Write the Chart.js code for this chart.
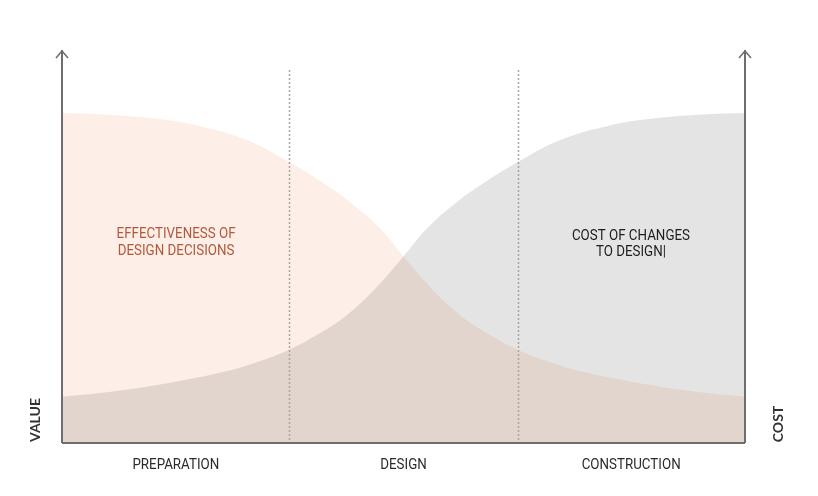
<!DOCTYPE html>
<html>
<head>
<meta charset="utf-8">
<script src="https://cdn.jsdelivr.net/npm/chart.js@4.4.1/dist/chart.umd.min.js"></script>
<style>
    html, body { margin: 0; padding: 0; background: #fff; }
    #wrap { width: 818px; height: 496px; }
</style>
</head>
<body>
<div id="wrap"><canvas id="valueCostChart" width="818" height="496"></canvas></div>
<script>
// project timeline, 0..100 across the three phases
var phases = ['PREPARATION', 'DESIGN', 'CONSTRUCTION'];
var phaseBounds = [33.3, 66.7];

var effX = [0, 5.6, 12.8, 20.1, 27.5, 33.2, 37.8, 42.2, 46.5, 50.2, 53.9, 58.3, 62.7, 66.8, 71.4, 75.8, 83.6, 92.0, 100];
var effY = [84.4, 84.1, 83.1, 81.1, 77.2, 71.9, 67.0, 61.6, 55.0, 47.3, 39.9, 32.7, 27.6, 23.8, 20.7, 18.4, 15.6, 13.3, 11.8];

var costX = [0, 8, 16.4, 24.2, 28.6, 33.2, 37.3, 41.7, 46.1, 49.8, 53.5, 57.8, 62.2, 66.8, 72.5, 79.9, 87.2, 94.4, 100];
var costY = [11.8, 13.3, 15.6, 18.4, 20.7, 23.8, 27.6, 32.7, 39.9, 47.3, 55.0, 61.6, 67.0, 71.9, 77.2, 81.1, 83.1, 84.1, 84.4];

var effLabel = ['EFFECTIVENESS OF', 'DESIGN DECISIONS'];
var costLabel = ['COST OF CHANGES', 'TO DESIGN|'];

var narrowFont = 'Roboto, "Liberation Sans", sans-serif';

function toPoints(xs, ys) {
    return xs.map(function (x, i) { return { x: x, y: ys[i] }; });
}

// condensed look: squeeze text horizontally around its centre
function narrowText(ctx, text, x, y) {
    ctx.save();
    ctx.translate(x, y);
    ctx.scale(0.89, 1);
    ctx.fillText(text, 0, 0);
    ctx.restore();
}

// multiply the fills so the overlap darkens like in the print
var multiplyFill = {
    id: 'multiplyFill',
    beforeDatasetsDraw: function (chart) {
        chart.ctx.save();
        chart.ctx.globalCompositeOperation = 'multiply';
    },
    afterDatasetsDraw: function (chart) {
        chart.ctx.restore();
    }
};

var decorations = {
    id: 'decorations',
    afterDatasetsDraw: function (chart) {
        var ctx = chart.ctx;
        var xs = chart.scales.x;
        var ys = chart.scales.y;
        var area = chart.chartArea;
        var base = ys.getPixelForValue(0);

        ctx.save();

        // dotted phase dividers
        ctx.strokeStyle = '#a8a4a2';
        ctx.lineWidth = 1.5;
        ctx.setLineDash([2, 2]);
        phaseBounds.forEach(function (b) {
            var px = Math.round(xs.getPixelForValue(b)) + 0.5;
            ctx.beginPath();
            ctx.moveTo(px, area.top + 18);
            ctx.lineTo(px, base);
            ctx.stroke();
        });
        ctx.setLineDash([]);

        // axes with arrows
        ctx.strokeStyle = '#6e6e6e';
        ctx.lineWidth = 2;
        [0, 100].forEach(function (v) {
            var px = xs.getPixelForValue(v);
            ctx.beginPath();
            ctx.moveTo(px, base);
            ctx.lineTo(px, area.top - 2);
            ctx.stroke();
            ctx.lineWidth = 1.5;
            ctx.beginPath();
            ctx.moveTo(px - 6, area.top + 6);
            ctx.lineTo(px, area.top - 1);
            ctx.lineTo(px + 6, area.top + 6);
            ctx.stroke();
            ctx.lineWidth = 2;
        });
        ctx.beginPath();
        ctx.moveTo(xs.getPixelForValue(0), base);
        ctx.lineTo(xs.getPixelForValue(100), base);
        ctx.stroke();

        // phase labels
        ctx.fillStyle = '#2b2b2b';
        ctx.font = '15px ' + narrowFont;
        ctx.textAlign = 'center';
        ctx.textBaseline = 'middle';
        phases.forEach(function (p, i) {
            var c = (i + 0.5) * 100 / phases.length;
            narrowText(ctx, p, xs.getPixelForValue(c), base + 22);
        });

        // area captions
        ctx.fillStyle = '#b4583c';
        effLabel.forEach(function (t, i) {
            narrowText(ctx, t, xs.getPixelForValue(16.7), ys.getPixelForValue(53.3) + i * 17);
        });
        ctx.fillStyle = '#1e1e1e';
        costLabel.forEach(function (t, i) {
            narrowText(ctx, t, xs.getPixelForValue(83.3), ys.getPixelForValue(53) + i * 16);
        });

        // axis titles
        ctx.font = 'bold 14px Lato, "DejaVu Sans", sans-serif';
        ctx.fillStyle = '#333';
        ctx.save();
        ctx.translate(35, 420);
        ctx.rotate(-Math.PI / 2);
        ctx.fillText('VALUE', 0, 0);
        ctx.restore();
        ctx.save();
        ctx.translate(778, 424);
        ctx.rotate(-Math.PI / 2);
        ctx.fillText('COST', 0, 0);
        ctx.restore();

        ctx.restore();
    }
};

var ctx = document.getElementById('valueCostChart').getContext('2d');
var valueCostChart = new Chart(ctx, {
    type: 'line',
    data: {
        datasets: [{
            label: 'Cost of changes to design',
            data: toPoints(costX, costY),
            backgroundColor: '#e4e4e4',
            borderWidth: 0,
            pointRadius: 0,
            fill: 'origin',
            tension: 0.4
        }, {
            label: 'Effectiveness of design decisions',
            data: toPoints(effX, effY),
            backgroundColor: '#fdefe7',
            borderWidth: 0,
            pointRadius: 0,
            fill: 'origin',
            tension: 0.4
        }]
    },
    options: {
        responsive: false,
        animation: false,
        layout: {
            padding: { left: 62, right: 73, top: 52, bottom: 53 }
        },
        plugins: {
            legend: { display: false },
            tooltip: { enabled: false }
        },
        scales: {
            x: { type: 'linear', min: 0, max: 100, display: false },
            y: { min: 0, max: 100, display: false }
        }
    },
    plugins: [multiplyFill, decorations]
});
</script>
</body>
</html>
